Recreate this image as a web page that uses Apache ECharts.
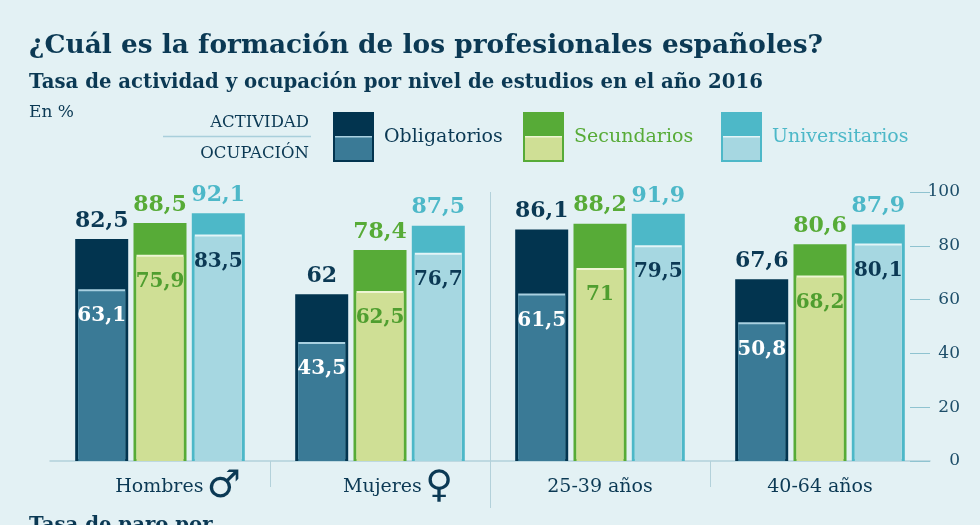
<!DOCTYPE html>
<html>
<head>
<meta charset="utf-8">
<script src="https://cdn.jsdelivr.net/npm/echarts@6/dist/echarts.min.js"></script>
<style>
html, body { margin: 0; padding: 0; background: #e3f1f4; }
#main { width: 980px; height: 525px; }
</style>
</head>
<body>
<div id="main"></div>
<script>
var categories = ['Hombres', 'Mujeres', '25-39 años', '40-64 años'];
var levels = ['Obligatorios', 'Secundarios', 'Universitarios'];
// tasa de actividad (%)
var actividadObligatorios = [82.5, 62, 86.1, 67.6];
var actividadSecundarios = [88.5, 78.4, 88.2, 80.6];
var actividadUniversitarios = [92.1, 87.5, 91.9, 87.9];
// tasa de ocupación (%)
var ocupacionObligatorios = [63.1, 43.5, 61.5, 50.8];
var ocupacionSecundarios = [75.9, 62.5, 71, 68.2];
var ocupacionUniversitarios = [83.5, 76.7, 79.5, 80.1];
var yTicks = [0, 20, 40, 60, 80, 100];

var NAVY = '#0b3954';
var SERIF = '"DejaVu Serif", serif';
var GRID_LINE = '#b3d1da';

var palette = [
    {act: '#02344f', occ: '#3a7a96', actLabel: NAVY, occLabel: '#ffffff', top: '#a9d0e0', text: NAVY},
    {act: '#57ab37', occ: '#cfdf95', actLabel: '#57ab37', occLabel: '#4f9e2f', top: '#eef5d3', text: '#57ab37'},
    {act: '#4db8c8', occ: '#a6d7e1', actLabel: '#4db8c8', occLabel: NAVY, top: '#e3f4f7', text: '#4db8c8'}
];
var symbols = {'Hombres': '♂', 'Mujeres': '♀'};

var actividad = [actividadObligatorios, actividadSecundarios, actividadUniversitarios];
var ocupacion = [ocupacionObligatorios, ocupacionSecundarios, ocupacionUniversitarios];

function fmt(v) {
    return String(v).replace('.', ',');
}

var series = [];
levels.forEach(function (name, i) {
    series.push({
        name: name,
        type: 'bar',
        xAxisIndex: 0,
        barWidth: 53,
        barGap: '10%',
        data: actividad[i],
        itemStyle: {color: palette[i].act},
        label: {
            show: true,
            position: 'top',
            distance: 7,
            color: palette[i].actLabel,
            fontFamily: SERIF,
            fontWeight: 'bold',
            fontSize: 22,
            formatter: function (p) { return fmt(p.value); }
        }
    });
});
levels.forEach(function (name, i) {
    series.push({
        name: name + ' ocupación',
        type: 'bar',
        xAxisIndex: 1,
        barWidth: 47,
        barGap: '24%',
        data: ocupacion[i],
        itemStyle: {
            color: palette[i].occ,
            shadowColor: palette[i].top,   // línea clara en la parte superior
            shadowBlur: 0,
            shadowOffsetY: -2
        },
        label: {
            show: true,
            position: 'insideTop',
            distance: 15,
            color: palette[i].occLabel,
            fontFamily: SERIF,
            fontWeight: 'bold',
            fontSize: 20,
            formatter: function (p) { return fmt(p.value); }
        }
    });
});

// leyenda: caja partida actividad / ocupación
var legendGraphics = [
    {type: 'text', right: 980 - 309, top: 114, style: {text: 'ACTIVIDAD', font: '16.5px ' + SERIF, fill: NAVY, textAlign: 'right'}},
    {type: 'line', shape: {x1: 163, y1: 136.5, x2: 311, y2: 136.5}, style: {stroke: '#a9cfdb', lineWidth: 1.5}},
    {type: 'text', right: 980 - 309, top: 145, style: {text: 'OCUPACIÓN', font: '16.5px ' + SERIF, fill: NAVY, textAlign: 'right'}}
];
var legendX = [333, 523, 721];
levels.forEach(function (name, i) {
    var x = legendX[i];
    legendGraphics.push(
        {type: 'rect', shape: {x: x, y: 112, width: 41, height: 50}, style: {fill: palette[i].act}},
        {type: 'rect', shape: {x: x + 2, y: 136, width: 37, height: 24}, style: {fill: palette[i].top}},
        {type: 'rect', shape: {x: x + 2, y: 137.5, width: 37, height: 22.5}, style: {fill: palette[i].occ}},
        {type: 'text', left: x + 51, top: 128, style: {text: name, font: '19px ' + SERIF, fill: palette[i].text}}
    );
});

var option = {
    backgroundColor: '#e3f1f4',
    animation: false,
    title: [
        {text: '¿Cuál es la formación de los profesionales españoles?', left: 29, top: 33, padding: 0,
            textStyle: {fontFamily: SERIF, fontWeight: 'bold', fontSize: 26.4, color: NAVY}},
        {text: 'Tasa de actividad y ocupación por nivel de estudios en el año 2016', left: 29, top: 73, padding: 0,
            textStyle: {fontFamily: SERIF, fontWeight: 'bold', fontSize: 19.7, color: NAVY}},
        {text: 'En %', left: 29, top: 104, padding: 0,
            textStyle: {fontFamily: SERIF, fontWeight: 'normal', fontSize: 17, color: NAVY}},
        {text: 'Tasa de paro por', left: 29, top: 516, padding: 0,
            textStyle: {fontFamily: SERIF, fontWeight: 'bold', fontSize: 19.7, color: NAVY}}
    ],
    grid: {left: 50, right: 50, top: 192, bottom: 64},
    xAxis: [{
        type: 'category',
        data: categories,
        axisLine: {lineStyle: {color: GRID_LINE, width: 1.5}},
        axisTick: {show: false},
        axisLabel: {
            margin: 6,
            formatter: function (v) {
                if (symbols[v]) {
                    return '{pad|}{t|' + v + '} {s|' + symbols[v] + '}';
                }
                return '{t|' + v + '}';
            },
            rich: {
                pad: {width: 36, lineHeight: 40},
                t: {fontFamily: SERIF, fontSize: 19, color: NAVY, lineHeight: 40},
                s: {fontFamily: '"DejaVu Sans"', fontWeight: 'bold', fontSize: 38, color: NAVY, lineHeight: 40}
            }
        }
    }, {
        type: 'category',
        data: categories,
        show: false
    }],
    yAxis: {
        type: 'value',
        position: 'right',
        min: yTicks[0],
        max: yTicks[yTicks.length - 1],
        interval: yTicks[1] - yTicks[0],
        axisLine: {show: false},
        axisTick: {show: true, inside: true, length: 20, lineStyle: {color: '#8fc3d0'}},
        splitLine: {show: false},
        axisLabel: {margin: 30, align: 'right', color: '#1d4e69', fontFamily: SERIF, fontSize: 17}
    },
    series: series,
    graphic: legendGraphics
};

var chart = echarts.init(document.getElementById('main'));
chart.setOption(option);

// separadores entre grupos, calculados con las escalas del gráfico
function boundaryX(i) {
    var a = chart.convertToPixel({xAxisIndex: 0}, categories[i - 1]);
    var b = chart.convertToPixel({xAxisIndex: 0}, categories[i]);
    return Math.round((a + b) / 2) + 0.5;
}
var y0 = chart.convertToPixel({yAxisIndex: 0}, 0);
var yTop = chart.convertToPixel({yAxisIndex: 0}, 100);
var sepStyle = {stroke: GRID_LINE, lineWidth: 1};
chart.setOption({
    graphic: legendGraphics.concat([
        {type: 'line', shape: {x1: boundaryX(1), y1: y0, x2: boundaryX(1), y2: y0 + 26}, style: sepStyle},
        {type: 'line', shape: {x1: boundaryX(2), y1: yTop, x2: boundaryX(2), y2: y0 + 47}, style: sepStyle},
        {type: 'line', shape: {x1: boundaryX(3), y1: y0, x2: boundaryX(3), y2: y0 + 26}, style: sepStyle}
    ])
});
</script>
</body>
</html>
